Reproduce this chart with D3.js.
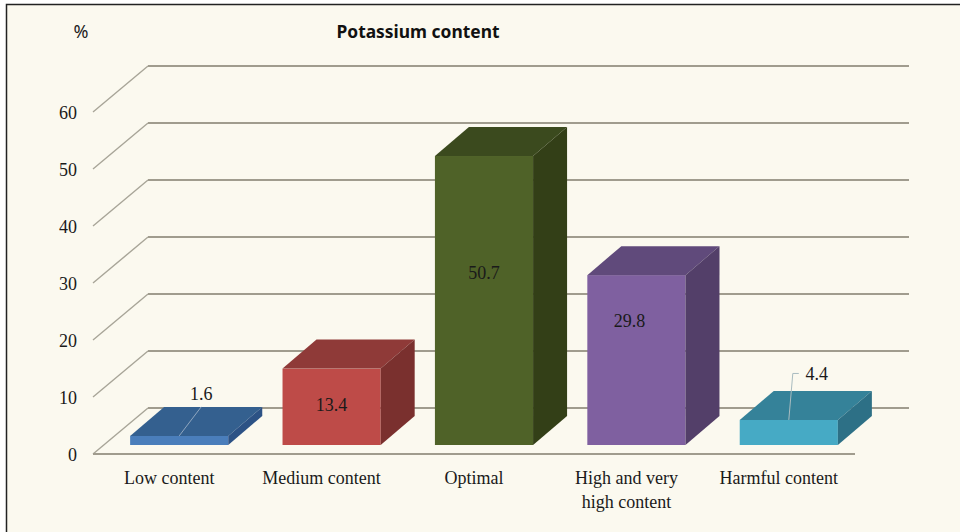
<!DOCTYPE html>
<html>
<head>
<meta charset="utf-8">
<script src="https://cdn.jsdelivr.net/npm/d3@7"></script>
<style>
    html, body { margin: 0; padding: 0; background: #fff; }
    svg { display: block; }
    .serif { font-family: "Liberation Serif", serif; fill: #1a1a1a; }
</style>
</head>
<body>
<svg class="chart"></svg>
<script>
// chart values
var categories = ["Low content", "Medium content", "Optimal", "High and very high content", "Harmful content"];
var values = [1.6, 13.4, 50.7, 29.8, 4.4];
var yTicks = [0, 10, 20, 30, 40, 50, 60];

// bar colours: front, top, side
var frontColors = ["#4a7ebb", "#be4b48", "#4f6228", "#7f60a0", "#46aac5"];
var topColors = ["#34608f", "#8f3a38", "#3b4a1e", "#604a7b", "#358299"];
var sideColors = ["#2c5285", "#7a302e", "#333f17", "#533f69", "#2d7086"];

// hand placed data labels, relative to the bar's front centre
var labelOffsets = [{dx: 22, dy: -47}, {dx: 0, dy: -2}, {dx: 0, dy: -28}, {dx: -7, dy: -39}, {dx: 28, dy: -59}];

var width = 960, height = 532;
var wallDx = 55, wallDy = -46;    // floor front edge to back wall
var barDx = 34, barDy = -29;      // depth of the boxes
var insetDx = 10, insetDy = -9;   // boxes stand a bit inside the floor

var chart = d3.select(".chart")
    .attr("width", width)
    .attr("height", height);

// paper
chart.append("rect")
    .attr("x", 6.5).attr("y", 4.5)
    .attr("width", width).attr("height", height)
    .attr("fill", "#fbf9ef")
    .attr("stroke", "#222")
    .attr("stroke-width", 1.5);

var scaleX = d3.scaleBand()
    .domain(categories)
    .range([93, 855]);

var scaleBar = d3.scaleBand()
    .domain(categories)
    .range([93, 855])
    .paddingInner(0.356)
    .paddingOuter(0.178);

var scaleY = d3.scaleLinear().domain([0, 60]).range([454, 112]);

// grid on the back wall + the diagonal on the side wall
var grid = chart.append("g");
grid.selectAll("line.wall").data(yTicks)
    .enter().append("line")
    .attr("class", "wall")
    .attr("x1", 93 + wallDx)
    .attr("x2", 855 + wallDx - 1)
    .attr("y1", function(d) { return scaleY(d) + wallDy; })
    .attr("y2", function(d) { return scaleY(d) + wallDy; })
    .attr("stroke", "#a09c8e")
    .attr("stroke-width", 1.8);

grid.selectAll("line.diag").data(yTicks)
    .enter().append("line")
    .attr("class", "diag")
    .attr("x1", 93)
    .attr("x2", 93 + wallDx)
    .attr("y1", function(d) { return scaleY(d); })
    .attr("y2", function(d) { return scaleY(d) + wallDy; })
    .attr("stroke", "#a8a598")
    .attr("stroke-width", 1.4);

grid.append("line")
    .attr("x1", 93).attr("x2", 855)
    .attr("y1", scaleY(0)).attr("y2", scaleY(0))
    .attr("stroke", "#a09c8e")
    .attr("stroke-width", 1.8);

// left axis
var leftAxis = d3.axisLeft(scaleY).tickValues(yTicks).tickSize(0).tickPadding(16);
var leftG = chart.append("g")
    .attr("transform", "translate(93,1)")
    .call(leftAxis);
leftG.select(".domain").remove();
leftG.selectAll(".tick text")
    .attr("class", "serif")
    .style("font-size", "18px");

// bottom axis
var bottomAxis = d3.axisBottom(scaleX).tickSize(0).tickPadding(17);
var bottomG = chart.append("g")
    .attr("transform", "translate(0," + scaleY(0) + ")")
    .call(bottomAxis);
bottomG.select(".domain").remove();
bottomG.selectAll(".tick text")
    .attr("class", "serif")
    .style("font-size", "18px")
    .call(wrap, 130);

// boxes
function pts(list) {
    return list.map(function(p) { return p.join(","); }).join(" ");
}

var bars = chart.selectAll("g.bar").data(categories)
    .enter().append("g")
    .attr("class", "bar");

var bw = scaleBar.bandwidth();
function barLeft(d) { return scaleBar(d) + insetDx; }
function barBase() { return scaleY(0) + insetDy; }
function barTop(d, i) { return scaleY(values[i]) + insetDy; }

bars.append("rect")
    .attr("x", barLeft)
    .attr("y", barTop)
    .attr("width", bw)
    .attr("height", function(d, i) { return barBase() - barTop(d, i); })
    .attr("fill", function(d, i) { return frontColors[i]; });

bars.append("polygon")
    .attr("points", function(d, i) {
        var x = barLeft(d), y = barTop(d, i);
        return pts([[x, y], [x + barDx, y + barDy], [x + bw + barDx, y + barDy], [x + bw, y]]);
    })
    .attr("fill", function(d, i) { return topColors[i]; });

bars.append("polygon")
    .attr("points", function(d, i) {
        var x = barLeft(d) + bw, y = barTop(d, i);
        return pts([[x, y], [x + barDx, y + barDy], [x + barDx, barBase() + barDy], [x, barBase()]]);
    })
    .attr("fill", function(d, i) { return sideColors[i]; });

// leader lines for the two low bars
function labelX(d, i) { return barLeft(d) + bw / 2 + labelOffsets[i].dx; }
function labelY(d, i) { return (barTop(d, i) + barBase()) / 2 + labelOffsets[i].dy; }

bars.filter(function(d, i) { return i === 0; }).append("polyline")
    .attr("points", function(d) {
        var i = categories.indexOf(d);
        return pts([[barLeft(d) + bw / 2, barTop(d, i)], [labelX(d, i), barTop(d, i) + barDy]]);
    })
    .attr("fill", "none")
    .attr("stroke", "#8fa6bf")
    .attr("stroke-width", 1);

bars.filter(function(d, i) { return i === 4; }).append("polyline")
    .attr("points", function(d) {
        var i = categories.indexOf(d);
        var mid = barLeft(d) + bw / 2;
        return pts([[mid, barTop(d, i)], [mid + 4, labelY(d, i)], [mid + 10, labelY(d, i)]]);
    })
    .attr("fill", "none")
    .attr("stroke", "#a9bcc0")
    .attr("stroke-width", 1);

// value labels
bars.append("text")
    .attr("class", "serif")
    .attr("x", labelX)
    .attr("y", labelY)
    .attr("dy", "0.35em")
    .attr("text-anchor", "middle")
    .style("font-size", "18px")
    .text(function(d, i) { return values[i]; });

// title and unit
chart.append("text")
    .attr("x", 418)
    .attr("y", 38)
    .attr("text-anchor", "middle")
    .style("font-family", "'Noto Sans', sans-serif")
    .style("font-weight", "bold")
    .style("font-size", "17.4px")
    .attr("fill", "#111")
    .text("Potassium content");

chart.append("text")
    .attr("x", 81)
    .attr("y", 38)
    .attr("text-anchor", "middle")
    .style("font-family", "'Noto Sans', sans-serif")
    .style("font-size", "18px")
    .attr("fill", "#222")
    .text("%");

// split long axis labels on two lines
function wrap(labels, maxWidth) {
    labels.each(function() {
        var text = d3.select(this),
            words = text.text().split(" "),
            y = text.attr("y"),
            dy = parseFloat(text.attr("dy")),
            line = [],
            lineNo = 0,
            tspan = text.text(null).append("tspan").attr("x", 0).attr("y", y).attr("dy", dy + "em");
        words.forEach(function(word) {
            line.push(word);
            tspan.text(line.join(" "));
            if (tspan.node().getComputedTextLength() > maxWidth) {
                line.pop();
                tspan.text(line.join(" "));
                line = [word];
                lineNo++;
                tspan = text.append("tspan").attr("x", 0).attr("y", y)
                    .attr("dy", (lineNo * 1.35 + dy) + "em").text(word);
            }
        });
    });
}
</script>
</body>
</html>
